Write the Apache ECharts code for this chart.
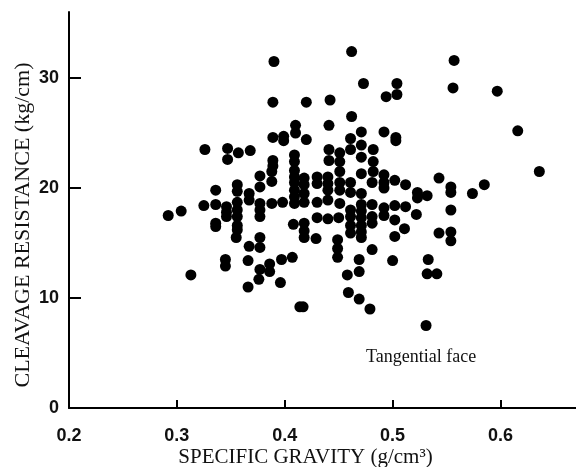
<!DOCTYPE html>
<html>
<head>
<meta charset="utf-8">
<script src="https://cdn.jsdelivr.net/npm/echarts@6/dist/echarts.min.js"></script>
<style>
  html, body { margin: 0; padding: 0; background: #fff; }
  #chart { width: 576px; height: 467px; }
</style>
</head>
<body>
<div id="chart"></div>
<script>
  // specific gravity (g/cm3) of each specimen
  const gravity = [
    0.292, 0.304, 0.313, 0.326, 0.325, 0.336, 0.336, 0.336, 0.336, 0.345,
    0.345, 0.346, 0.346, 0.346, 0.347, 0.347, 0.357, 0.356, 0.356, 0.356,
    0.356, 0.356, 0.356, 0.356, 0.355, 0.368, 0.367, 0.366, 0.366, 0.367,
    0.367, 0.377, 0.377, 0.377, 0.377, 0.377, 0.377, 0.377, 0.377, 0.376,
    0.386, 0.386, 0.388, 0.388, 0.388, 0.390, 0.389, 0.389, 0.389, 0.389,
    0.397, 0.396, 0.398, 0.399, 0.399, 0.407, 0.408, 0.414, 0.410, 0.410,
    0.409, 0.409, 0.409, 0.409, 0.409, 0.409, 0.409, 0.409, 0.420, 0.420,
    0.418, 0.418, 0.418, 0.418, 0.418, 0.418, 0.418, 0.417, 0.430, 0.430,
    0.430, 0.430, 0.429, 0.442, 0.441, 0.441, 0.441, 0.440, 0.440, 0.440,
    0.440, 0.440, 0.451, 0.451, 0.451, 0.451, 0.451, 0.451, 0.450, 0.449,
    0.449, 0.449, 0.462, 0.462, 0.461, 0.461, 0.461, 0.461, 0.461, 0.461,
    0.461, 0.461, 0.458, 0.459, 0.473, 0.471, 0.471, 0.471, 0.471, 0.471,
    0.471, 0.471, 0.471, 0.471, 0.471, 0.471, 0.469, 0.469, 0.469, 0.479,
    0.482, 0.482, 0.482, 0.481, 0.481, 0.481, 0.481, 0.481, 0.494, 0.492,
    0.492, 0.492, 0.492, 0.492, 0.492, 0.504, 0.504, 0.503, 0.503, 0.502,
    0.502, 0.502, 0.502, 0.500, 0.512, 0.512, 0.511, 0.523, 0.523, 0.522,
    0.532, 0.533, 0.532, 0.531, 0.543, 0.543, 0.541, 0.557, 0.556, 0.554,
    0.554, 0.554, 0.554, 0.554, 0.574, 0.585, 0.597, 0.616, 0.636
  ];

  // cleavage resistance (kg/cm), same order as gravity
  const resistance = [
    17.5, 17.9, 12.1, 23.5, 18.4, 19.8, 18.5, 16.8, 16.5, 13.5,
    12.9, 18.3, 17.8, 17.4, 23.6, 22.6, 23.2, 20.3, 19.7, 18.7,
    18.0, 17.4, 16.6, 16.2, 15.5, 23.4, 14.7, 13.4, 11.0, 19.5,
    18.9, 21.1, 20.1, 18.6, 18.0, 17.4, 15.5, 14.6, 12.6, 11.7,
    13.1, 12.4, 21.5, 20.6, 18.6, 31.5, 27.8, 24.6, 22.5, 22.0,
    13.5, 11.4, 18.7, 24.7, 24.3, 13.7, 16.7, 9.2, 25.7, 25.0,
    23.0, 22.4, 21.6, 21.0, 20.5, 19.8, 19.2, 18.6, 27.8, 24.4,
    20.9, 20.3, 19.5, 18.7, 16.8, 16.1, 15.5, 9.2, 21.0, 20.4,
    18.7, 17.3, 15.4, 28.0, 25.7, 23.5, 22.5, 21.0, 20.4, 19.8,
    18.9, 17.2, 23.2, 22.4, 21.5, 20.5, 19.8, 18.6, 17.3, 15.3,
    14.5, 13.7, 32.4, 26.5, 24.5, 23.5, 20.5, 19.6, 18.0, 17.4,
    16.6, 15.9, 12.1, 10.5, 29.5, 25.1, 23.9, 22.8, 21.3, 19.5,
    18.5, 17.9, 17.3, 16.6, 16.0, 15.5, 13.5, 12.4, 9.9, 9.0,
    23.5, 22.4, 21.5, 20.5, 18.5, 17.4, 16.8, 14.4, 28.3, 25.1,
    21.2, 20.5, 20.0, 18.2, 17.5, 29.5, 28.5, 24.6, 24.3, 20.7,
    18.4, 17.1, 15.6, 13.4, 20.3, 18.3, 16.3, 19.6, 19.1, 17.6,
    19.3, 13.5, 12.2, 7.5, 20.9, 15.9, 12.2, 31.6, 29.1, 20.1,
    19.6, 18.0, 16.0, 15.2, 19.5, 20.3, 28.8, 25.2, 21.5
  ];

  const xLabelValues = [0.2, 0.3, 0.4, 0.5, 0.6];
  const xTickValues = [0.3, 0.4, 0.5, 0.6];
  const yLabelValues = [0, 10, 20, 30];
  const yTickValues = [10, 20, 30];

  const points = gravity.map((g, i) => [g, resistance[i]]);

  const serif = '"Liberation Serif", "DejaVu Serif", serif';
  const narrow = '"Liberation Sans Narrow", "Liberation Sans", sans-serif';

  const chart = echarts.init(document.getElementById('chart'));
  chart.setOption({
    backgroundColor: '#fff',
    animation: false,
    grid: {
      left: 69, right: 0, top: 12, bottom: 59,
      containLabel: false,
      outerBoundsMode: 'none'
    },
    xAxis: {
      type: 'value',
      min: 0.2,
      max: 0.67,
      splitLine: { show: false },
      axisLine: { lineStyle: { color: '#000', width: 2 } },
      axisTick: {
        inside: true,
        length: 8,
        customValues: xTickValues,
        lineStyle: { color: '#000', width: 2 }
      },
      axisLabel: {
        customValues: xLabelValues,
        margin: 19,
        color: '#111',
        fontFamily: narrow,
        fontWeight: 'bold',
        fontSize: 18,
        formatter: (v) => v.toFixed(1)
      },
      name: 'SPECIFIC GRAVITY (g/cm³)',
      nameLocation: 'middle',
      nameMoveOverlap: false,
      nameGap: 39,
      nameTextStyle: {
        color: '#111',
        fontFamily: serif,
        fontSize: 21,
        padding: [0, 34, 0, 0]
      }
    },
    yAxis: {
      type: 'value',
      min: 0,
      max: 36,
      splitLine: { show: false },
      axisLine: { lineStyle: { color: '#000', width: 2 } },
      axisTick: {
        inside: true,
        length: 12,
        customValues: yTickValues,
        lineStyle: { color: '#000', width: 2 }
      },
      axisLabel: {
        customValues: yLabelValues,
        margin: 10,
        color: '#111',
        fontFamily: narrow,
        fontWeight: 'bold',
        fontSize: 18
      },
      name: 'CLEAVAGE RESISTANCE (kg/cm)',
      nameLocation: 'middle',
      nameMoveOverlap: false,
      nameGap: 35,
      nameTextStyle: {
        color: '#111',
        fontFamily: serif,
        fontSize: 22,
        padding: [0, 30, 0, 0]
      }
    },
    graphic: [{
      type: 'text',
      left: 366,
      top: 348,
      style: {
        text: 'Tangential face',
        fill: '#111',
        font: '18px ' + serif
      }
    }],
    series: [{
      type: 'scatter',
      data: points,
      symbol: 'circle',
      symbolSize: 11,
      itemStyle: { color: '#000', opacity: 1 }
    }]
  });
</script>
</body>
</html>
